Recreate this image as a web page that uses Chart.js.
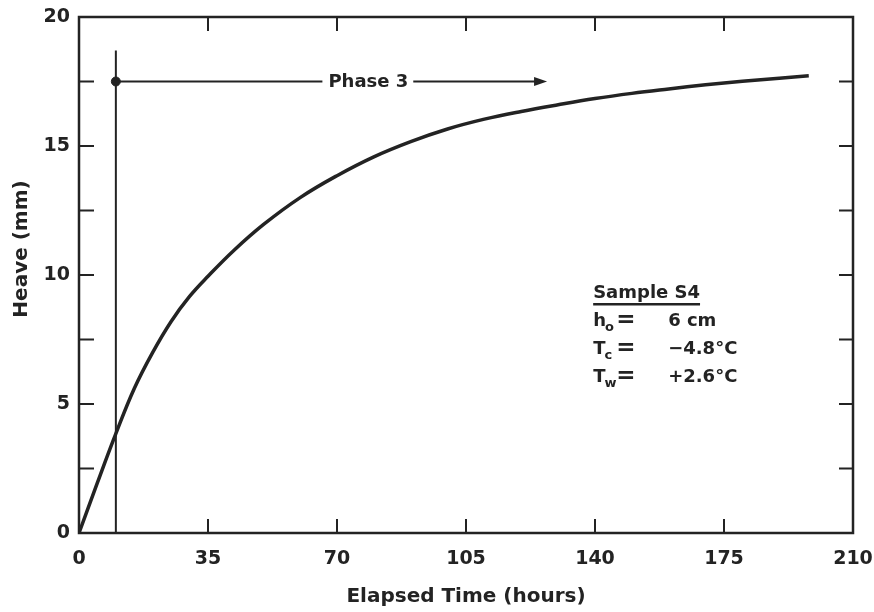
<!DOCTYPE html>
<html lang="en">
<head>
<meta charset="utf-8" />
<title>Heave vs Elapsed Time - Sample S4</title>
<script src="https://cdn.jsdelivr.net/npm/chart.js@4.4.1/dist/chart.umd.min.js"></script>
<style>
  html, body { margin: 0; padding: 0; background: #fff; }
  #wrap { width: 874px; height: 612px; }
</style>
</head>
<body>
<div id="wrap"><canvas id="heaveChart" width="874" height="612"></canvas></div>
<script>
// heave curve for sample S4
const hours = [0, 5, 10, 15, 20, 25, 30, 35, 42, 50, 60, 70, 80, 90, 100, 110, 120, 130, 140, 150, 160, 170, 180, 190, 198];
const heave = [0, 1.95, 3.85, 5.6, 7.0, 8.2, 9.17, 9.95, 10.95, 11.95, 13.0, 13.85, 14.58, 15.17, 15.66, 16.04, 16.34, 16.6, 16.84, 17.04, 17.21, 17.37, 17.51, 17.63, 17.72];

// axis ticks
const xTicks = [0, 35, 70, 105, 140, 175, 210];
const yTicks = [0, 2.5, 5, 7.5, 10, 12.5, 15, 17.5, 20];

// phase 3 marker
const phaseStart = 10;
const phaseEnd = 127;
const phaseLevel = 17.5;
const phaseTop = 18.7;
const phaseLabelAt = 78.5;
const phaseLabel = 'Phase 3';

// sample box
const sampleTitle = 'Sample S4';
const sampleSymbols = ['h', 'T', 'T'];
const sampleSubs = ['o', 'c', 'w'];
const sampleValues = ['6 cm', '\u22124.8\u00b0C', '+2.6\u00b0C'];
const sampleAt = { x: 139.5, y: 9.1 };

const INK = '#232323';
const FONT = '"DejaVu Sans", "Liberation Sans", sans-serif';

// frame, inward tick marks, y title, phase arrow and sample box
const decorations = {
  id: 'decorations',
  afterDraw(chart) {
    const { ctx, chartArea: a, scales: { x, y } } = chart;
    ctx.save();
    ctx.strokeStyle = INK;
    ctx.fillStyle = INK;
    ctx.lineWidth = 2.5;
    ctx.strokeRect(a.left, a.top, a.right - a.left, a.bottom - a.top);

    ctx.lineWidth = 2;
    ctx.beginPath();
    yTicks.forEach(v => {
      const py = y.getPixelForValue(v);
      ctx.moveTo(a.left, py); ctx.lineTo(a.left + 15, py);
      ctx.moveTo(a.right, py); ctx.lineTo(a.right - 14, py);
    });
    xTicks.forEach(v => {
      const px = x.getPixelForValue(v);
      ctx.moveTo(px, a.bottom); ctx.lineTo(px, a.bottom - 14);
      ctx.moveTo(px, a.top); ctx.lineTo(px, a.top + 14);
    });
    ctx.stroke();

    // y axis title
    ctx.save();
    ctx.translate(22, 249);
    ctx.rotate(-Math.PI / 2);
    ctx.font = 'bold 20px ' + FONT;
    ctx.textAlign = 'center';
    ctx.textBaseline = 'middle';
    ctx.fillText('Heave (mm)', 0, 0);
    ctx.restore();

    // phase 3 arrow with label
    const x0 = x.getPixelForValue(phaseStart);
    const x1 = x.getPixelForValue(phaseEnd);
    const xm = x.getPixelForValue(phaseLabelAt);
    const py = y.getPixelForValue(phaseLevel);
    ctx.font = 'bold 18px ' + FONT;
    const tw = ctx.measureText(phaseLabel).width;
    ctx.beginPath();
    ctx.moveTo(x0, py); ctx.lineTo(xm - tw / 2 - 6, py);
    ctx.moveTo(xm + tw / 2 + 5, py); ctx.lineTo(x1 - 10, py);
    ctx.stroke();
    ctx.beginPath();
    ctx.moveTo(x1, py);
    ctx.lineTo(x1 - 13, py - 4.5);
    ctx.lineTo(x1 - 13, py + 4.5);
    ctx.closePath();
    ctx.fill();
    ctx.textAlign = 'center';
    ctx.textBaseline = 'middle';
    ctx.fillText(phaseLabel, xm, py + 1);

    // sample box
    const sx = x.getPixelForValue(sampleAt.x);
    const sy = y.getPixelForValue(sampleAt.y);
    ctx.textAlign = 'left';
    ctx.textBaseline = 'alphabetic';
    ctx.font = 'bold 18px ' + FONT;
    ctx.fillText(sampleTitle, sx, sy);
    const stw = ctx.measureText(sampleTitle).width;
    ctx.lineWidth = 2.5;
    ctx.beginPath();
    ctx.moveTo(sx, sy + 6); ctx.lineTo(sx + stw, sy + 6);
    ctx.stroke();
    sampleSymbols.forEach((s, i) => {
      const by = sy + 28 + i * 27.7;
      ctx.font = 'bold 18px ' + FONT;
      ctx.fillText(s, sx, by);
      const sw = ctx.measureText(s).width;
      ctx.font = 'bold 13px ' + FONT;
      ctx.fillText(sampleSubs[i], sx + sw - 1, by + 5);
      ctx.font = 'bold 23px ' + FONT;
      ctx.fillText('=', sx + 23, by);
      ctx.font = 'bold 18px ' + FONT;
      ctx.fillText(sampleValues[i], sx + 75, by);
    });
    ctx.restore();
  }
};

const ctx = document.getElementById('heaveChart').getContext('2d');
new Chart(ctx, {
  type: 'line',
  data: {
    datasets: [
      {
        label: 'Heave',
        data: hours.map((h, i) => ({ x: h, y: heave[i] })),
        borderColor: INK,
        borderWidth: 3.5,
        pointRadius: 0,
        tension: 0.4,
        fill: false
      },
      {
        label: 'Phase 3 start',
        data: [{ x: phaseStart, y: 0 }, { x: phaseStart, y: phaseTop }],
        borderColor: INK,
        borderWidth: 2,
        pointRadius: 0,
        fill: false
      },
      {
        label: 'Phase 3 point',
        data: [{ x: phaseStart, y: phaseLevel }],
        showLine: false,
        pointRadius: 4.5,
        pointBackgroundColor: INK,
        pointBorderColor: INK
      }
    ]
  },
  options: {
    responsive: false,
    animation: false,
    events: [],
    layout: { padding: { top: 17, right: 21, left: 0, bottom: 0 } },
    plugins: {
      legend: { display: false },
      tooltip: { enabled: false }
    },
    scales: {
      x: {
        type: 'linear',
        min: 0,
        max: 210,
        afterFit(scale) {
          scale.height = 79;
          scale.paddingLeft = 0;
          scale.paddingRight = 0;
        },
        afterBuildTicks(scale) { scale.ticks = xTicks.map(v => ({ value: v })); },
        grid: { display: false, drawTicks: false },
        border: { display: false },
        ticks: {
          padding: 15,
          color: INK,
          font: { family: FONT, size: 19, weight: 'bold' },
          maxRotation: 0
        },
        title: {
          display: true,
          text: 'Elapsed Time (hours)',
          color: INK,
          font: { family: FONT, size: 20, weight: 'bold' },
          padding: { top: 0, bottom: 3 }
        }
      },
      y: {
        type: 'linear',
        min: 0,
        max: 20,
        afterFit(scale) {
          scale.width = 79;
          scale.paddingTop = 0;
          scale.paddingBottom = 0;
        },
        grid: { display: false, drawTicks: false },
        border: { display: false },
        ticks: {
          stepSize: 5,
          padding: 9,
          color: INK,
          font: { family: FONT, size: 19, weight: 'bold' }
        }
      }
    }
  },
  plugins: [decorations]
});
</script>
</body>
</html>
